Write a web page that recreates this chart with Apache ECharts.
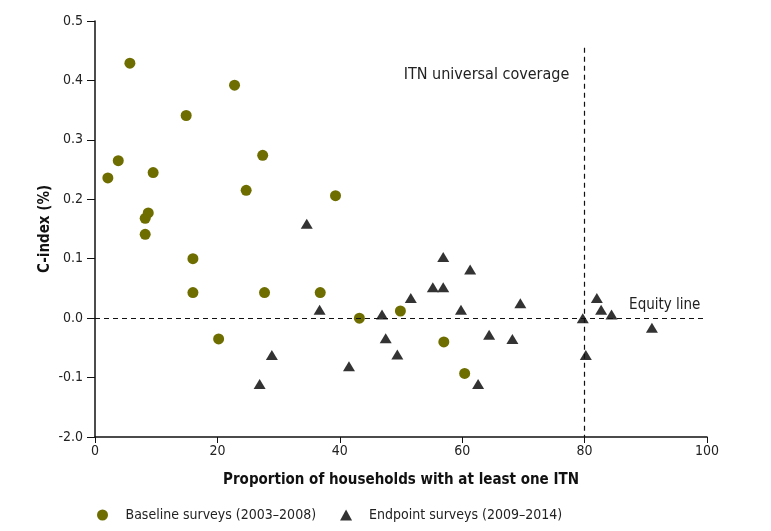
<!DOCTYPE html>
<html>
<head>
<meta charset="utf-8">
<script src="https://cdn.jsdelivr.net/npm/echarts@6/dist/echarts.min.js"></script>
<style>
  html, body { margin: 0; padding: 0; background: #fff; }
  #chart { width: 771px; height: 531px; }
</style>
</head>
<body>
<div id="chart"></div>
<script>
const FONT = "'Liberation Sans Narrow', 'DejaVu Sans Condensed', sans-serif"

// Baseline surveys (2003-2008): [coverage %, C-index]
const baseline = [
  [5.7, 0.429], [22.8, 0.392], [14.9, 0.341], [3.8, 0.265], [2.1, 0.236],
  [9.5, 0.245], [27.4, 0.274], [24.7, 0.215], [39.3, 0.206], [8.7, 0.177],
  [8.2, 0.168], [8.2, 0.141], [16.0, 0.100], [16.0, 0.043], [27.7, 0.043],
  [36.8, 0.043], [20.2, -0.035], [43.2, 0.0], [49.9, 0.012], [57.0, -0.040],
  [60.4, -0.093]
]

// Endpoint surveys (2009-2014)
const endpoint = [
  [34.6, 0.159], [36.7, 0.014], [41.5, -0.081], [46.9, 0.006], [47.5, -0.034],
  [49.4, -0.061], [51.6, 0.034], [55.2, 0.052], [56.9, 0.052], [56.9, 0.103],
  [59.8, 0.014], [61.3, 0.082], [64.4, -0.028], [62.6, -0.111], [68.2, -0.035],
  [69.5, 0.025], [79.7, 0.0], [80.2, -0.062], [82.0, 0.034], [82.7, 0.014],
  [84.4, 0.006], [91.0, -0.016], [28.9, -0.062], [26.9, -0.111]
]

const xTicks = [0, 20, 40, 60, 80, 100]
const yMin = -0.2
const yMax = 0.5
const yStep = 0.1
// labels as printed on the original axis (bottom one reads -2.0)
const yTickLabels = ['-2.0', '-0.1', '0.0', '0.1', '0.2', '0.3', '0.4', '0.5']

const coverageTarget = 80
const equityLevel = 0

const chart = echarts.init(document.getElementById('chart'))

const axisText = { color: '#222', fontFamily: FONT, fontSize: 14 }

chart.setOption({
  animation: false,
  textStyle: { fontFamily: FONT },
  grid: { left: 95, right: 64, top: 21, bottom: 94 },
  xAxis: {
    type: 'value',
    min: xTicks[0],
    max: xTicks[xTicks.length - 1],
    interval: 20,
    name: 'Proportion of households with at least one ITN',
    nameLocation: 'middle',
    nameGap: 36,
    nameTextStyle: { color: '#111', fontFamily: FONT, fontSize: 15, fontWeight: 'bold' },
    axisLine: { onZero: false, lineStyle: { color: '#111', width: 1.5 } },
    axisTick: { length: 6, lineStyle: { color: '#111' } },
    axisLabel: { ...axisText, margin: 7 },
    splitLine: { show: false }
  },
  yAxis: {
    type: 'value',
    min: yMin,
    max: yMax,
    interval: yStep,
    name: 'C-index (%)',
    nameLocation: 'middle',
    nameGap: 42,
    nameMoveOverlap: false,
    nameTextStyle: { color: '#111', fontFamily: FONT, fontSize: 15, fontWeight: 'bold' },
    axisLine: { show: true, onZero: false, lineStyle: { color: '#111', width: 1.5 } },
    axisTick: { show: true, length: 8, lineStyle: { color: '#111' } },
    axisLabel: {
      ...axisText,
      margin: 12,
      formatter: (v) => yTickLabels[Math.round((v - yMin) / yStep)]
    },
    splitLine: { show: false }
  },
  legend: {
    left: 92,
    top: 503,
    itemWidth: 12,
    itemHeight: 11,
    itemGap: 24,
    textStyle: { color: '#222', fontFamily: FONT, fontSize: 14, padding: [0, 0, 0, 12] },
    data: [
      { name: 'Baseline surveys (2003–2008)', icon: 'circle' },
      { name: 'Endpoint surveys (2009–2014)', icon: 'triangle' }
    ]
  },
  series: [
    {
      name: 'Baseline surveys (2003–2008)',
      type: 'scatter',
      data: baseline,
      symbol: 'circle',
      symbolSize: 11,
      itemStyle: { color: '#6e6e00', opacity: 1 },
      z: 3,
      markLine: {
        silent: true,
        symbol: 'none',
        lineStyle: { color: '#111', type: [5, 4], width: 1.2 },
        label: { show: false },
        data: [
          [{ coord: [0, equityLevel] }, { coord: [100, equityLevel] }],
          [{ coord: [coverageTarget, 0.455] }, { coord: [coverageTarget, yMin] }]
        ]
      },
      markPoint: {
        silent: true,
        symbol: 'circle',
        symbolSize: 1,
        itemStyle: { color: 'rgba(0,0,0,0)' },
        label: { show: true, color: '#222', fontFamily: FONT, fontSize: 16 },
        data: [
          {
            coord: [coverageTarget - 1.6, 0.41],
            label: { position: 'left', formatter: 'ITN universal coverage' }
          },
          {
            coord: [93.1, 0.022],
            label: { position: 'inside', fontSize: 15, formatter: 'Equity line' }
          }
        ]
      }
    },
    {
      name: 'Endpoint surveys (2009–2014)',
      type: 'scatter',
      data: endpoint,
      symbol: 'triangle',
      symbolSize: [12, 10],
      itemStyle: { color: '#333333', opacity: 1 },
      z: 4
    }
  ]
})
</script>
</body>
</html>
